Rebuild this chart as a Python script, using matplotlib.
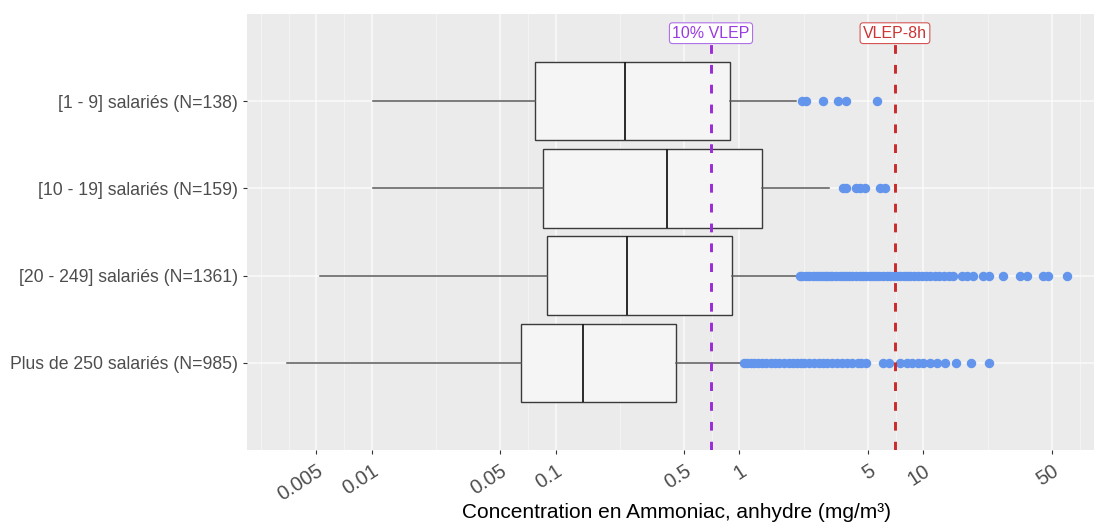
import matplotlib
matplotlib.use("Agg")
import matplotlib.pyplot as plt
import numpy as np

plt.rcParams['font.family'] = ['Liberation Sans', 'DejaVu Sans']

categories = ["[1 - 9] salariés (N=138)", "[10 - 19] salariés (N=159)",
              "[20 - 249] salariés (N=1361)", "Plus de 250 salariés (N=985)"]
whislo = [0.0102, 0.0102, 0.00525, 0.00347]
q1 = [0.0774, 0.0855, 0.0899, 0.065]
med = [0.239, 0.404, 0.245, 0.141]
q3 = [0.887, 1.325, 0.91, 0.452]
whishi = [2.03, 3.08, 2.08, 1.03]
fliers_1 = [2.2, 2.3, 2.85, 3.44, 3.79, 5.61]
fliers_2 = [3.64, 3.79, 4.30, 4.52, 4.81, 5.80, 6.18]
fliers_3 = [2.12, 2.2, 2.3, 2.4, 2.5, 2.6, 2.7, 2.8, 2.9, 3.0, 3.1, 3.2, 3.35, 3.5, 3.65,
            3.8, 3.95, 4.1, 4.3, 4.5, 4.7, 4.9, 5.1, 5.3, 5.5, 5.7, 6.0, 6.3, 6.6, 6.9,
            7.2, 7.5, 7.8, 8.1, 8.5, 8.9, 9.3, 9.8, 10.3, 10.9, 11.5, 12.2, 12.9, 13.7,
            14.5, 16.3, 17.3, 18.6, 21.0, 22.8, 27.0, 33.5, 36.5, 44.7, 47.7, 60.0]
fliers_4 = [1.06, 1.1, 1.15, 1.2, 1.26, 1.32, 1.4, 1.48, 1.56, 1.65, 1.75, 1.85, 1.95,
            2.05, 2.15, 2.25, 2.4, 2.55, 2.7, 2.85, 3.0, 3.2, 3.4, 3.6, 3.83, 4.07, 4.4,
            4.6, 4.9, 6.0, 6.5, 7.45, 8.1, 8.7, 9.3, 10.0, 10.8, 11.8, 13.1, 15.0, 18.1, 22.7]
fliers = [fliers_1, fliers_2, fliers_3, fliers_4]
vlep = 7.0
vlep10 = 0.7
xticks = [0.005, 0.01, 0.05, 0.1, 0.5, 1, 5, 10, 50]
xticklabels = ["0.005", "0.01", "0.05", "0.1", "0.5", "1", "5", "10", "50"]

fig = plt.figure(figsize=(10.94, 5.25), dpi=100)
ax = fig.add_axes([247/1094, 1-450/525, (1094-247)/1094, (450-14)/525])
ax.set_facecolor('#EBEBEB')
ax.set_xscale('log')
ax.set_xlim(10**-2.677, 10**1.927)
ax.set_ylim(0, 5)

# grid (ggplot-like minor breaks halfway between majors in log space)
minor = [10**v for v in [-2.602, -2.45, -2.15, -1.65, -1.15, -0.65, -0.15, 0.35, 0.85, 1.35, 1.85]]
for m in minor:
    ax.axvline(m, color='#F4F4F4', lw=0.7, zorder=0)
for t in xticks:
    ax.axvline(t, color='#FAFAFA', lw=1.1, zorder=0)
positions = [4, 3, 2, 1]
for p in positions:
    ax.axhline(p, color='#FAFAFA', lw=1.1, zorder=0)

stats = []
for i in range(4):
    stats.append(dict(med=med[i], q1=q1[i], q3=q3[i], whislo=whislo[i],
                      whishi=whishi[i], fliers=fliers[i]))
ax.bxp(stats, positions=positions, vert=False, widths=0.9, patch_artist=True,
       showcaps=False,
       boxprops=dict(facecolor='#F5F5F5', edgecolor='#3a3a3a', lw=1.0),
       medianprops=dict(color='#1a1a1a', lw=1.3),
       whiskerprops=dict(color='#5a5a5a', lw=1.1),
       flierprops=dict(marker='o', markerfacecolor='#6495ED', markeredgecolor='#6495ED',
                       markersize=5.8, alpha=1.0),
       zorder=2)

ax.axvline(vlep10, color='#9A2BD6', lw=2.1, ls=(0, (3, 3.8)), zorder=3)
ax.axvline(vlep, color='#CC2A2A', lw=2.1, ls=(0, (3, 3.8)), zorder=3)
ax.text(vlep10, 4.78, "10% VLEP", color='#9A3BE0', fontsize=11.5, ha='center', va='center',
        bbox=dict(boxstyle='round,pad=0.18,rounding_size=0.2', fc='white', ec='#B070E8', lw=0.8),
        zorder=4)
ax.text(vlep, 4.78, "VLEP-8h", color='#CC3333', fontsize=11.5, ha='center', va='center',
        bbox=dict(boxstyle='round,pad=0.18,rounding_size=0.2', fc='white', ec='#D55555', lw=0.8),
        zorder=4)

ax.set_xticks(xticks)
ax.set_xticklabels(xticklabels, rotation=33, ha='right', rotation_mode='anchor')
ax.xaxis.set_minor_locator(matplotlib.ticker.NullLocator())
ax.set_yticks(positions)
ax.set_yticklabels(categories)
ax.tick_params(axis='both', colors='#333333', length=3, width=0.8, labelcolor='#4D4D4D')
ax.tick_params(axis='x', labelsize=14.5, pad=5)
ax.tick_params(axis='y', labelsize=12.7)
for s in ax.spines.values():
    s.set_visible(False)
fig.text(676/1094, 1-512/525, "Concentration en Ammoniac, anhydre (mg/m³)",
         fontsize=15, color='black', ha='center', va='center')

fig.savefig("out.png", dpi=100)
